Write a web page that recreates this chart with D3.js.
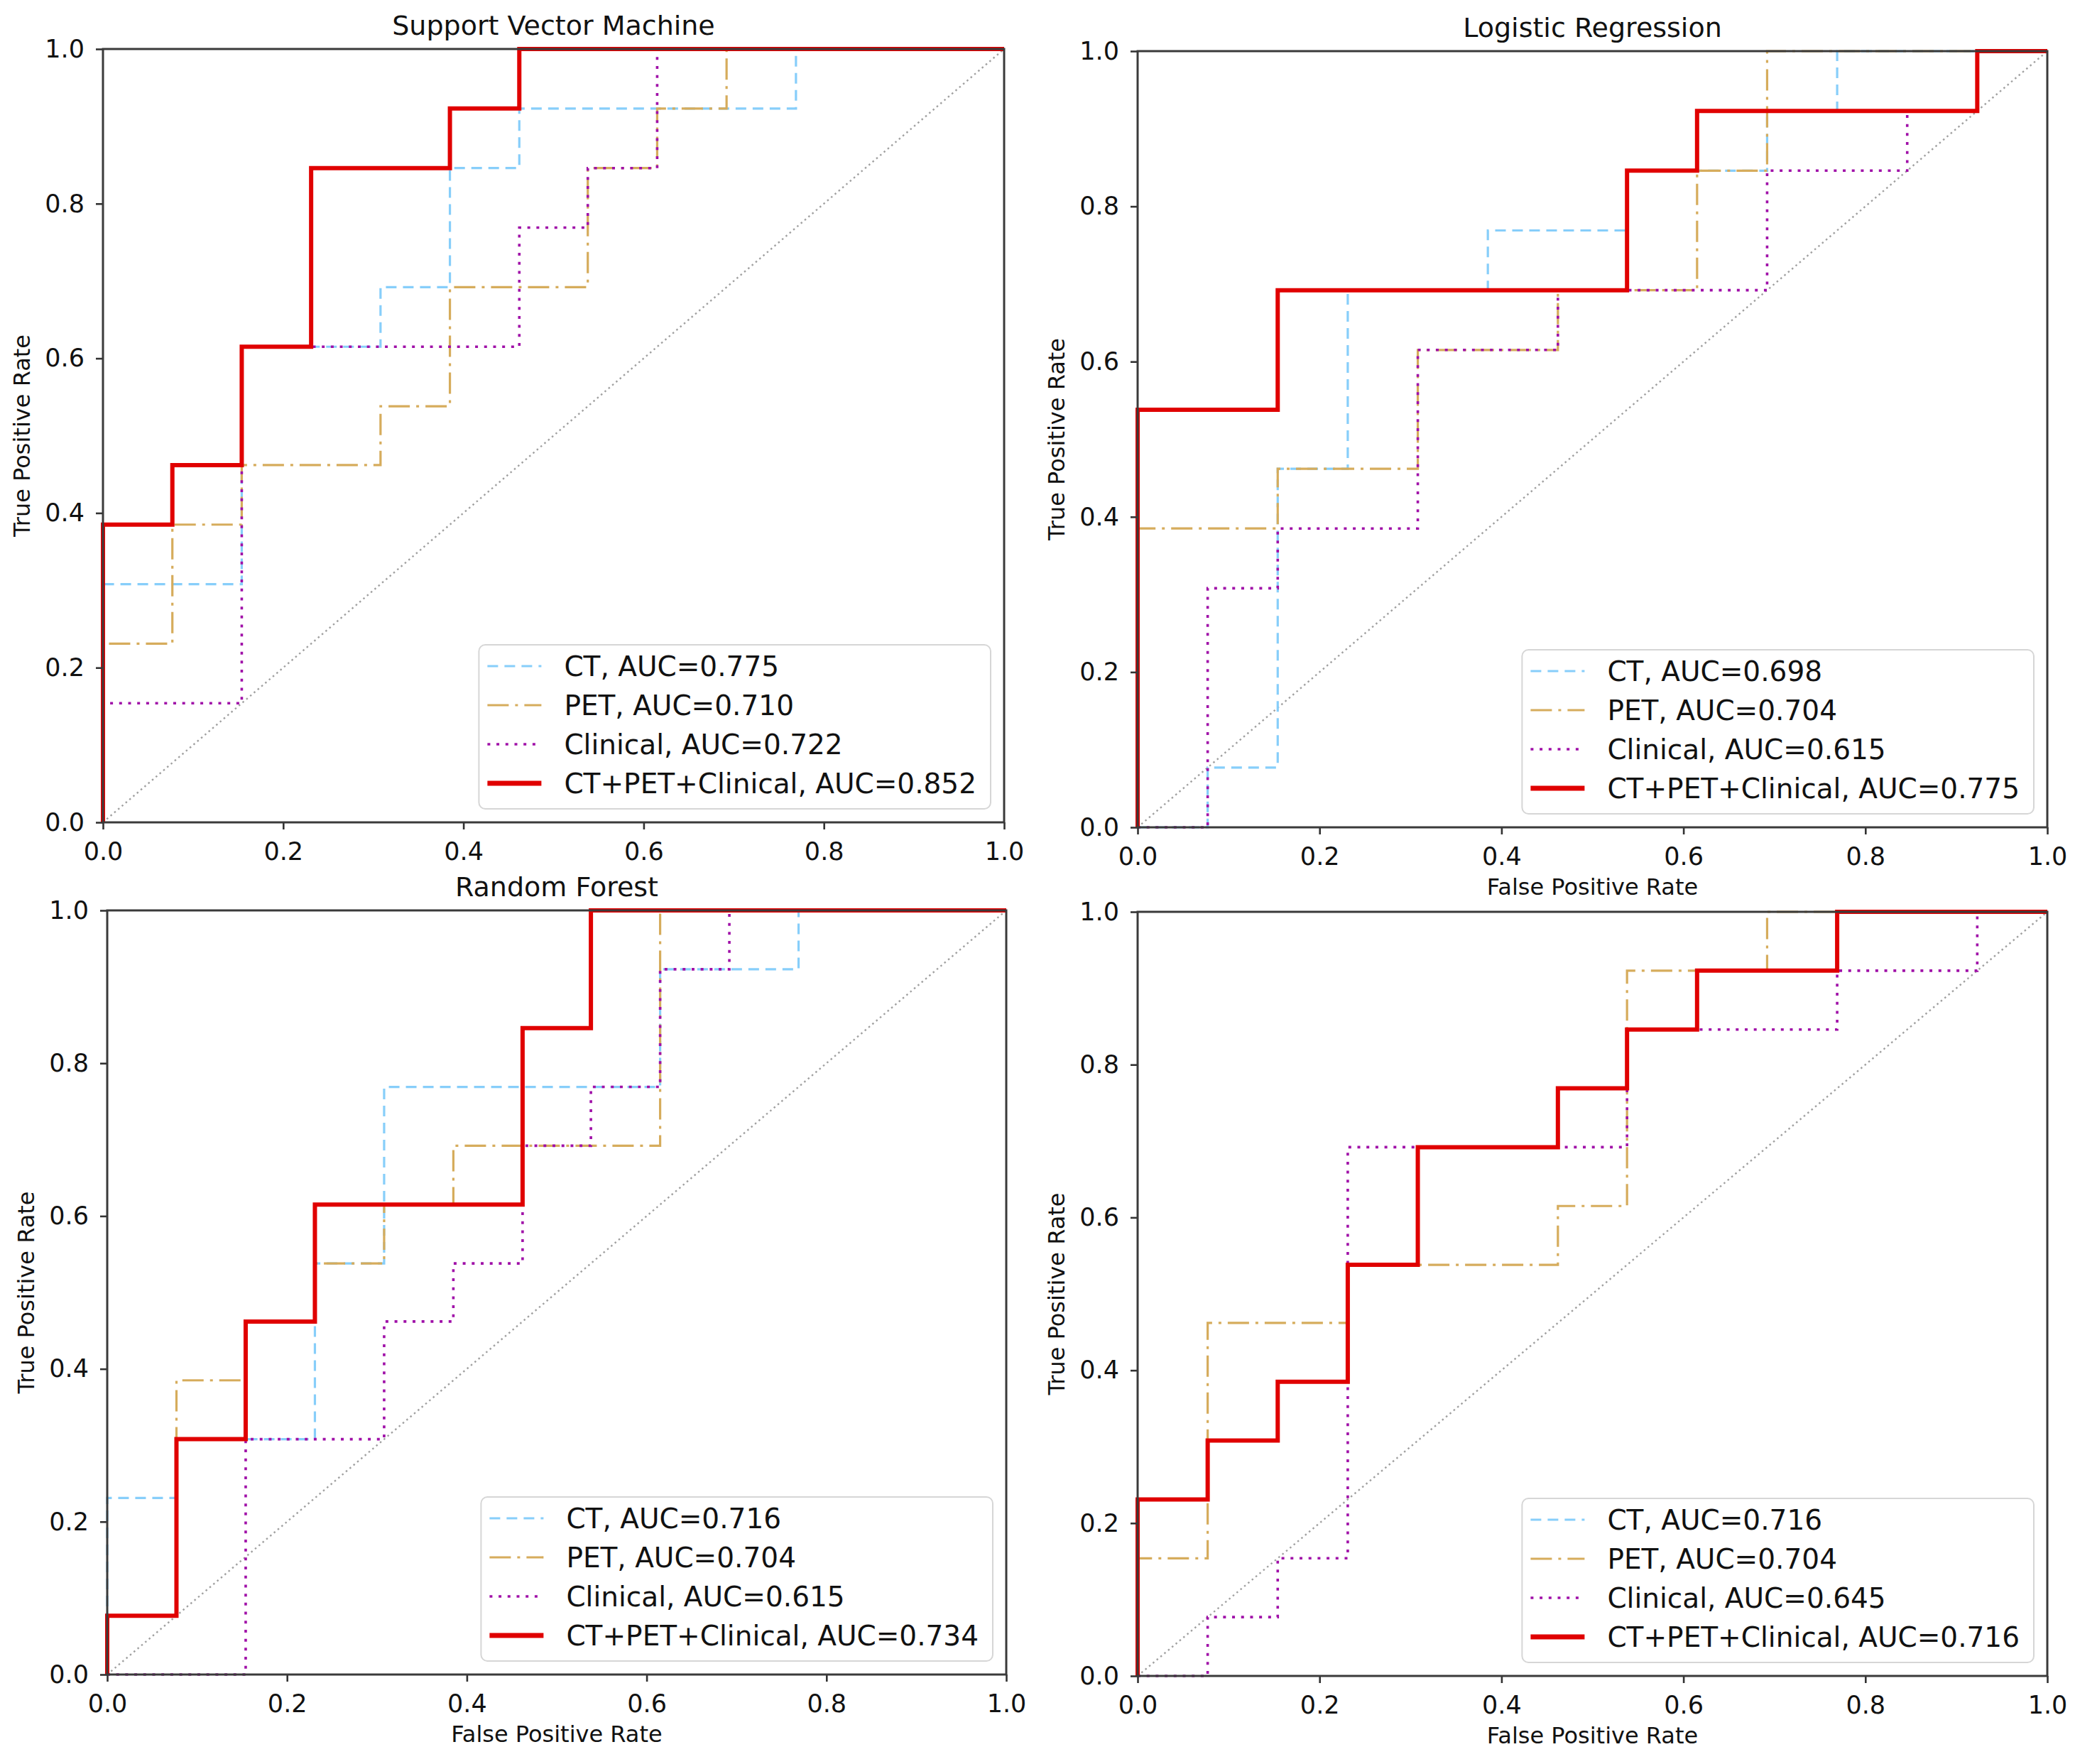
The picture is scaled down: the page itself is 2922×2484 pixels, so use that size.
<!DOCTYPE html>
<html>
<head>
<meta charset="utf-8">
<script src="https://cdn.jsdelivr.net/npm/d3@7"></script>
<style>
  body { margin: 0; background: #fff; }
  text { font-family: "DejaVu Sans", sans-serif; fill: #111; }
</style>
</head>
<body>
<svg id="chart" width="2922" height="2484"></svg>
<script>
// ROC points (fpr, tpr)
var seriesNames = ["CT", "PET", "Clinical", "CT+PET+Clinical"];
var panelTitles = ["Support Vector Machine", "Logistic Regression", "Random Forest", ""];
var ticks = [0.0, 0.2, 0.4, 0.6, 0.8, 1.0];

var svmAuc = [0.775, 0.710, 0.722, 0.852];
var lrAuc = [0.698, 0.704, 0.615, 0.775];
var rfAuc = [0.716, 0.704, 0.615, 0.734];
var brAuc = [0.716, 0.704, 0.645, 0.716];

var svmCT = [[0,0],[0,0.308],[0.154,0.308],[0.154,0.615],[0.308,0.615],[0.308,0.692],[0.385,0.692],[0.385,0.846],[0.462,0.846],[0.462,0.923],[0.769,0.923],[0.769,1],[1,1]];
var svmPET = [[0,0],[0,0.231],[0.077,0.231],[0.077,0.385],[0.154,0.385],[0.154,0.462],[0.308,0.462],[0.308,0.538],[0.385,0.538],[0.385,0.692],[0.538,0.692],[0.538,0.846],[0.615,0.846],[0.615,0.923],[0.692,0.923],[0.692,1],[1,1]];
var svmClin = [[0,0],[0,0.154],[0.154,0.154],[0.154,0.615],[0.462,0.615],[0.462,0.769],[0.538,0.769],[0.538,0.846],[0.615,0.846],[0.615,1],[1,1]];
var svmAll = [[0,0],[0,0.385],[0.077,0.385],[0.077,0.462],[0.154,0.462],[0.154,0.615],[0.231,0.615],[0.231,0.846],[0.385,0.846],[0.385,0.923],[0.462,0.923],[0.462,1],[1,1]];

var lrCT = [[0,0],[0.077,0],[0.077,0.077],[0.154,0.077],[0.154,0.462],[0.231,0.462],[0.231,0.692],[0.385,0.692],[0.385,0.769],[0.538,0.769],[0.538,0.846],[0.692,0.846],[0.692,0.923],[0.769,0.923],[0.769,1],[1,1]];
var lrPET = [[0,0],[0,0.385],[0.154,0.385],[0.154,0.462],[0.308,0.462],[0.308,0.615],[0.462,0.615],[0.462,0.692],[0.615,0.692],[0.615,0.846],[0.692,0.846],[0.692,1],[1,1]];
var lrClin = [[0,0],[0.077,0],[0.077,0.308],[0.154,0.308],[0.154,0.385],[0.308,0.385],[0.308,0.615],[0.462,0.615],[0.462,0.692],[0.692,0.692],[0.692,0.846],[0.846,0.846],[0.846,0.923],[0.923,0.923],[0.923,1],[1,1]];
var lrAll = [[0,0],[0,0.538],[0.154,0.538],[0.154,0.692],[0.538,0.692],[0.538,0.846],[0.615,0.846],[0.615,0.923],[0.923,0.923],[0.923,1],[1,1]];

var rfCT = [[0,0],[0,0.231],[0.077,0.231],[0.077,0.308],[0.231,0.308],[0.231,0.538],[0.308,0.538],[0.308,0.769],[0.615,0.769],[0.615,0.923],[0.769,0.923],[0.769,1],[1,1]];
var rfPET = [[0,0],[0,0.077],[0.077,0.077],[0.077,0.385],[0.154,0.385],[0.154,0.462],[0.231,0.462],[0.231,0.538],[0.308,0.538],[0.308,0.615],[0.385,0.615],[0.385,0.692],[0.615,0.692],[0.615,1],[1,1]];
var rfClin = [[0,0],[0.154,0],[0.154,0.308],[0.308,0.308],[0.308,0.462],[0.385,0.462],[0.385,0.538],[0.462,0.538],[0.462,0.692],[0.538,0.692],[0.538,0.769],[0.615,0.769],[0.615,0.923],[0.692,0.923],[0.692,1],[1,1]];
var rfAll = [[0,0],[0,0.077],[0.077,0.077],[0.077,0.308],[0.154,0.308],[0.154,0.462],[0.231,0.462],[0.231,0.615],[0.462,0.615],[0.462,0.846],[0.538,0.846],[0.538,1],[1,1]];

var brCT = [[0,0],[0,0.231],[0.077,0.231],[0.077,0.308],[0.154,0.308],[0.154,0.385],[0.231,0.385],[0.231,0.538],[0.308,0.538],[0.308,0.692],[0.462,0.692],[0.462,0.769],[0.538,0.769],[0.538,0.846],[0.615,0.846],[0.615,0.923],[0.769,0.923],[0.769,1],[1,1]];
var brPET = [[0,0],[0,0.154],[0.077,0.154],[0.077,0.462],[0.231,0.462],[0.231,0.538],[0.462,0.538],[0.462,0.615],[0.538,0.615],[0.538,0.923],[0.692,0.923],[0.692,1],[1,1]];
var brClin = [[0,0],[0.077,0],[0.077,0.077],[0.154,0.077],[0.154,0.154],[0.231,0.154],[0.231,0.692],[0.538,0.692],[0.538,0.846],[0.769,0.846],[0.769,0.923],[0.923,0.923],[0.923,1],[1,1]];
var brAll = [[0,0],[0,0.231],[0.077,0.231],[0.077,0.308],[0.154,0.308],[0.154,0.385],[0.231,0.385],[0.231,0.538],[0.308,0.538],[0.308,0.692],[0.462,0.692],[0.462,0.769],[0.538,0.769],[0.538,0.846],[0.615,0.846],[0.615,0.923],[0.769,0.923],[0.769,1],[1,1]];

// line styles per series
var styles = [
  {color: "#87cefa", width: 3.2, dash: "15,9"},
  {color: "#d6ac5c", width: 3.2, dash: "30,9,4,9"},
  {color: "#a010a8", width: 3.6, dash: "4,8.7"},
  {color: "#e00000", width: 6, dash: null}
];

var panels = [
  {x0: 145, x1: 1414, y0: 69, y1: 1158, title: panelTitles[0], xlabel: false, auc: svmAuc, curves: [svmCT, svmPET, svmClin, svmAll]},
  {x0: 1602, x1: 2883, y0: 72, y1: 1165, title: panelTitles[1], xlabel: true, auc: lrAuc, curves: [lrCT, lrPET, lrClin, lrAll]},
  {x0: 151, x1: 1417, y0: 1282, y1: 2358, title: panelTitles[2], xlabel: true, auc: rfAuc, curves: [rfCT, rfPET, rfClin, rfAll]},
  {x0: 1602, x1: 2883, y0: 1284, y1: 2360, title: panelTitles[3], xlabel: true, auc: brAuc, curves: [brCT, brPET, brClin, brAll]}
];

var svg = d3.select("#chart");
var fmt = d3.format(".1f");
var aucFmt = d3.format(".3f");

panels.forEach(function(p, i) {
    var w = p.x1 - p.x0, h = p.y1 - p.y0;
    var x = d3.scaleLinear().domain([0, 1]).range([0, w]);
    var y = d3.scaleLinear().domain([0, 1]).range([h, 0]);

    var g = svg.append("g").attr("transform", "translate(" + p.x0 + "," + p.y0 + ")");

    g.append("clipPath").attr("id", "clip" + i)
        .append("rect").attr("x", -4).attr("y", -4).attr("width", w + 8).attr("height", h + 8);

    var plot = g.append("g").attr("clip-path", "url(#clip" + i + ")");

    // chance diagonal
    plot.append("line")
        .attr("x1", x(0)).attr("y1", y(0))
        .attr("x2", x(1)).attr("y2", y(1))
        .attr("stroke", "#a0a0a0")
        .attr("stroke-width", 2.4)
        .attr("stroke-dasharray", "2.5,4.5");

    var line = d3.line()
        .x(function(d) { return x(d[0]); })
        .y(function(d) { return y(d[1]); });

    p.curves.forEach(function(c, k) {
        var s = styles[k];
        plot.append("path")
            .attr("d", line(c))
            .attr("fill", "none")
            .attr("stroke", s.color)
            .attr("stroke-width", s.width)
            .attr("stroke-dasharray", s.dash);
    });

    // axes
    var xAxis = g.append("g")
        .attr("transform", "translate(0," + h + ")")
        .call(d3.axisBottom(x).tickValues(ticks).tickFormat(fmt).tickSize(10).tickPadding(10));
    var yAxis = g.append("g")
        .call(d3.axisLeft(y).tickValues(ticks).tickFormat(fmt).tickSize(10).tickPadding(16));
    [xAxis, yAxis].forEach(function(a) {
        a.select(".domain").remove();
        a.selectAll(".tick line").attr("stroke", "#333").attr("stroke-width", 2.6);
        a.selectAll(".tick text")
            .style("font-family", '"DejaVu Sans", sans-serif')
            .style("font-size", "35px")
            .attr("fill", "#111");
    });
    xAxis.selectAll(".tick text").attr("dy", "0.95em");

    // box
    g.append("rect")
        .attr("width", w).attr("height", h)
        .attr("fill", "none")
        .attr("stroke", "#3a3a3a")
        .attr("stroke-width", 3);

    if (p.title) {
        g.append("text")
            .attr("x", w / 2).attr("y", -20)
            .attr("text-anchor", "middle")
            .style("font-size", "38px")
            .text(p.title);
    }
    if (p.xlabel) {
        g.append("text")
            .attr("x", w / 2).attr("y", h + 95)
            .attr("text-anchor", "middle")
            .style("font-size", "32px")
            .text("False Positive Rate");
    }
    g.append("text")
        .attr("transform", "translate(-103," + (h / 2) + ") rotate(-90)")
        .attr("text-anchor", "middle")
        .style("font-size", "32px")
        .text("True Positive Rate");

    // legend
    var leg = g.append("g");
    var box = leg.append("rect")
        .attr("rx", 9).attr("ry", 9)
        .attr("fill", "#fff").attr("fill-opacity", 0.85)
        .attr("stroke", "#d6d6d6").attr("stroke-width", 2);
    var rowY = [30, 85, 140, 195];
    var maxLen = 0;
    seriesNames.forEach(function(name, k) {
        var s = styles[k];
        leg.append("line")
            .attr("x1", 12).attr("x2", 88)
            .attr("y1", rowY[k]).attr("y2", rowY[k])
            .attr("stroke", s.color)
            .attr("stroke-width", k == 3 ? 7 : s.width)
            .attr("stroke-dasharray", s.dash);
        var t = leg.append("text")
            .attr("x", 120).attr("y", rowY[k]).attr("dy", "0.36em")
            .style("font-size", "39px")
            .text(name + ", AUC=" + aucFmt(p.auc[k]));
        maxLen = Math.max(maxLen, t.node().getComputedTextLength());
    });
    var lw = 120 + maxLen + 20, lh = 231;
    box.attr("width", lw).attr("height", lh);
    leg.attr("transform", "translate(" + (w - 19 - lw) + "," + (h - 19 - lh) + ")");
});
</script>
</body>
</html>
